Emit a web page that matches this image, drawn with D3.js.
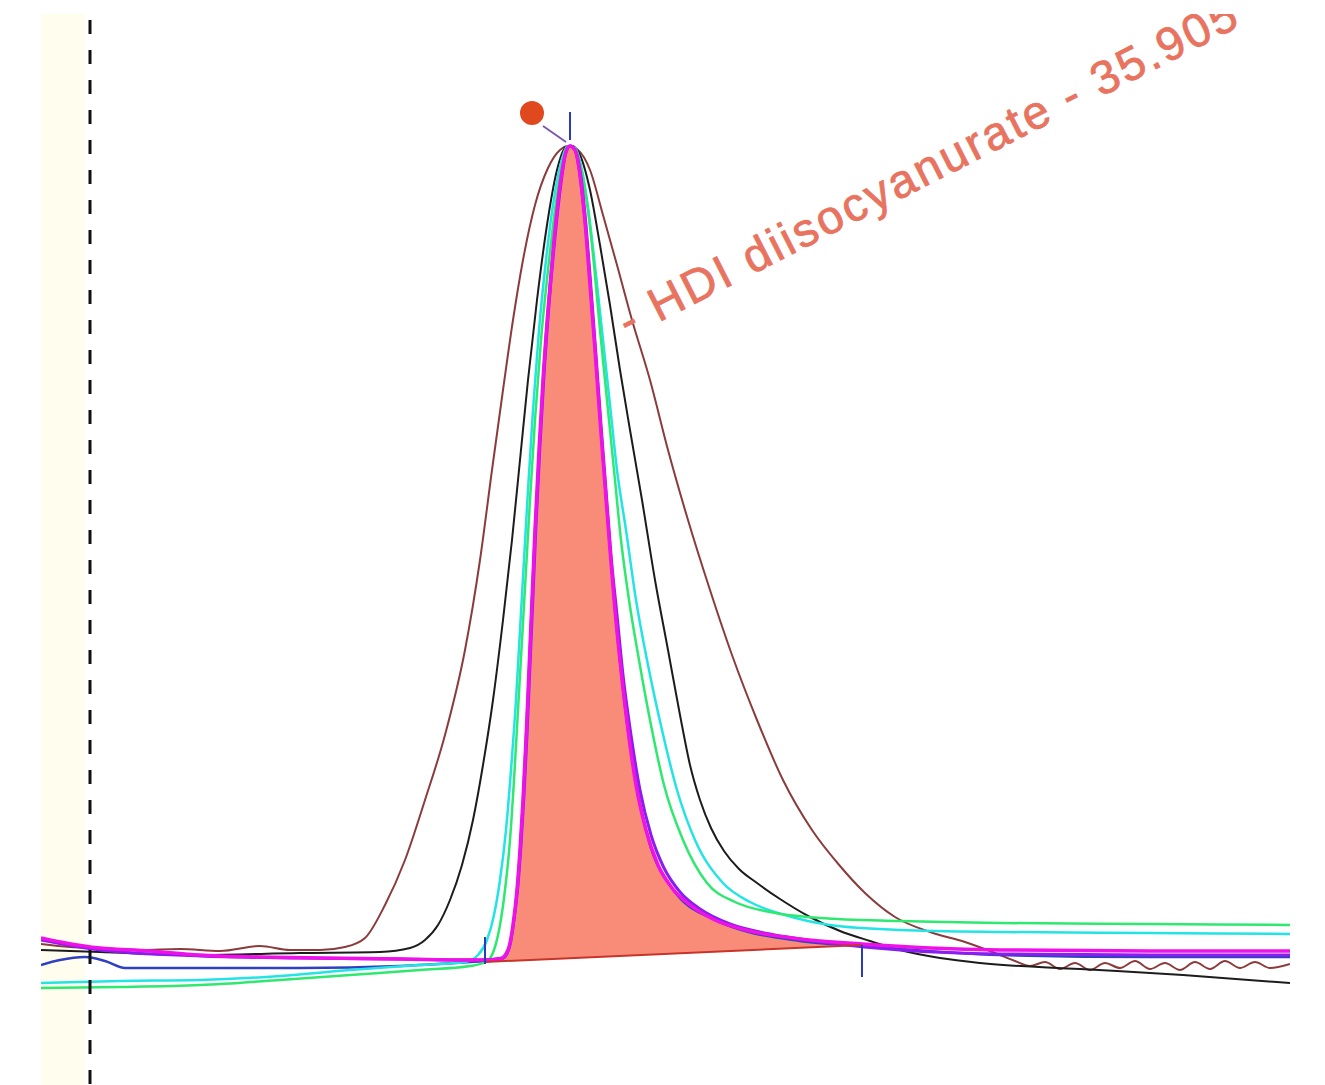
<!DOCTYPE html>
<html>
<head>
<meta charset="utf-8">
<script src="https://cdn.jsdelivr.net/npm/d3@7"></script>
<style>
  body { margin: 0; background: #fff; }
  svg { display: block; }
</style>
</head>
<body>
<svg id="chart"></svg>
<script>
// overlay of injections, [retention time (min), detector counts]
var brown = [[33.260,17],[33.405,14],[33.555,13],[33.755,11],[33.955,12],[34.155,10],[34.355,15],[34.505,11],[34.655,11],[34.780,14],[34.880,23],[34.980,56],[35.080,101],[35.180,161],[35.280,226],[35.380,311],[35.455,401],[35.515,491],[35.570,571],[35.620,641],[35.670,701],[35.730,756],[35.795,793],[35.855,811],[35.895,815],[35.945,811],[36.005,791],[36.070,746],[36.140,696],[36.215,641],[36.305,581],[36.395,511],[36.495,441],[36.605,371],[36.715,306],[36.840,241],[36.970,181],[37.115,131],[37.255,95],[37.380,68],[37.530,44],[37.705,29],[37.880,19],[38.030,8],[38.130,0],[38.205,-5],[38.280,-1],[38.355,-8],[38.430,-2],[38.505,-9],[38.580,-2],[38.655,-7],[38.730,0],[38.805,-8],[38.880,-2],[38.955,-9],[39.030,-1],[39.105,-8],[39.180,0],[39.255,-7],[39.330,-1],[39.405,-7],[39.505,-3]];

var black = [[33.260,11],[33.555,9],[34.055,6],[34.555,8],[34.955,9],[35.105,13],[35.180,21],[35.245,36],[35.305,61],[35.365,96],[35.420,141],[35.470,196],[35.520,261],[35.570,341],[35.615,421],[35.655,501],[35.695,581],[35.740,661],[35.790,736],[35.840,791],[35.885,814],[35.915,815],[35.955,806],[36.005,771],[36.055,716],[36.105,656],[36.155,591],[36.205,531],[36.265,461],[36.330,381],[36.395,311],[36.455,246],[36.505,196],[36.555,161],[36.610,133],[36.675,110],[36.750,92],[36.840,78],[36.955,62],[37.105,44],[37.255,30],[37.405,20],[37.555,11],[37.755,3],[37.955,-2],[38.455,-8],[38.970,-14],[39.505,-22]];

var blue = [[33.260,-4],[33.355,1],[33.480,4],[33.580,0],[33.680,-7],[34.055,-7],[34.555,-7],[35.055,-5],[35.405,-1],[35.555,1],[35.595,11],[35.640,71],[35.670,161],[35.700,291],[35.730,431],[35.770,581],[35.825,721],[35.885,809],[35.905,815],[35.930,811],[35.980,739],[36.030,611],[36.080,476],[36.130,351],[36.195,231],[36.285,131],[36.415,73],[36.630,41],[37.055,20],[37.365,15],[38.055,6],[38.805,4],[39.505,4]];

var cyan = [[33.260,-22],[33.655,-20],[34.055,-19],[34.455,-15],[34.805,-9],[35.155,-4],[35.380,-1],[35.445,6],[35.490,21],[35.525,46],[35.555,81],[35.585,131],[35.610,191],[35.635,261],[35.655,331],[35.675,401],[35.695,471],[35.720,551],[35.750,631],[35.785,701],[35.820,756],[35.860,798],[35.895,815],[35.930,813],[35.965,791],[36.000,746],[36.035,686],[36.070,621],[36.105,556],[36.140,491],[36.185,431],[36.235,361],[36.295,296],[36.365,231],[36.440,171],[36.530,121],[36.670,78],[36.805,59],[36.980,46],[37.205,36],[37.555,31],[38.055,29],[38.805,28],[39.505,27]];

var green = [[33.260,-27],[33.655,-26],[34.055,-24],[34.455,-19],[34.805,-14],[35.155,-9],[35.405,-5],[35.485,-1],[35.525,11],[35.555,36],[35.580,71],[35.605,121],[35.625,181],[35.645,251],[35.665,321],[35.685,391],[35.705,461],[35.730,541],[35.760,621],[35.795,691],[35.830,751],[35.865,795],[35.895,814],[35.930,812],[35.960,793],[35.995,751],[36.025,696],[36.055,631],[36.090,561],[36.125,491],[36.160,421],[36.200,361],[36.250,301],[36.305,241],[36.375,176],[36.470,121],[36.590,78],[36.730,59],[36.905,49],[37.155,43],[37.555,40],[38.055,38],[38.805,37],[39.505,36]];

var purple = [[33.260,21],[33.555,11],[34.055,5],[34.555,3],[35.055,2],[35.455,1],[35.570,3],[35.605,16],[35.625,41],[35.645,76],[35.660,116],[35.675,166],[35.690,226],[35.705,296],[35.720,366],[35.735,436],[35.755,516],[35.775,586],[35.800,656],[35.830,724],[35.860,778],[35.885,809],[35.905,815],[35.930,811],[35.960,784],[35.985,736],[36.010,673],[36.035,606],[36.060,536],[36.085,471],[36.110,406],[36.140,346],[36.170,286],[36.210,226],[36.255,171],[36.310,126],[36.375,93],[36.455,69],[36.555,52],[36.705,37],[36.905,27],[37.205,18],[37.555,11],[38.055,7],[38.805,6],[39.505,6]];

var magenta = [[33.260,23],[33.505,14],[33.805,10],[34.055,6],[34.355,4],[34.655,3],[35.055,2],[35.405,1],[35.480,1],[35.555,2],[35.595,11],[35.620,36],[35.640,71],[35.655,111],[35.670,161],[35.685,221],[35.700,291],[35.715,361],[35.730,431],[35.750,511],[35.770,581],[35.795,651],[35.825,721],[35.855,776],[35.885,809],[35.905,815],[35.930,811],[35.955,786],[35.980,739],[36.005,676],[36.030,611],[36.055,541],[36.080,476],[36.105,411],[36.130,351],[36.160,291],[36.195,231],[36.235,176],[36.285,131],[36.345,96],[36.415,73],[36.505,56],[36.630,41],[36.805,30],[37.055,22],[37.365,17],[37.705,13],[38.055,11],[38.805,10],[39.505,10]];

// integrated peak
var peakName = "HDI diisocyanurate";
var peakTime = 35.905;
var peakApex = 815;
var baseStart = [35.480, -1];
var baseEnd = [37.365, 16];
var markerTime = 33.505;   // dashed event line

var width = 1325, height = 1085;

var x = d3.scaleLinear().domain([33.26, 39.505]).range([41, 1290]);
var y = d3.scaleLinear().domain([-124, 947]).range([1085, 14]);

var svg = d3.select('#chart')
    .attr('width', width)
    .attr('height', height);

svg.append('defs').append('clipPath')
    .attr('id', 'plot')
    .append('rect')
    .attr('x', 41).attr('y', 14)
    .attr('width', 1249).attr('height', 1071);

var g = svg.append('g').attr('clip-path', 'url(#plot)');

// faint yellow strip on the left of the plot
g.append('rect')
    .attr('x', 41).attr('y', 14)
    .attr('width', 44).attr('height', 1071)
    .attr('fill', '#fffdee');

// baseline between integration ticks
var baseAt = t => baseStart[1] + (baseEnd[1] - baseStart[1]) * (t - baseStart[0]) / (baseEnd[0] - baseStart[0]);

var area = d3.area()
    .x(d => x(d[0]))
    .y0(d => y(baseAt(d[0])))
    .y1(d => y(d[1]))
    .curve(d3.curveMonotoneX);

g.append('path')
    .datum(magenta.filter(d => d[0] >= baseStart[0] && d[0] <= baseEnd[0]))
    .attr('d', area)
    .attr('fill', '#f98c79');

var line = d3.line()
    .x(d => x(d[0]))
    .y(d => y(d[1]))
    .curve(d3.curveMonotoneX);

var traces = [
    { data: brown, color: '#8b3b3b', w: 2 },
    { data: black, color: '#1c1c1c', w: 2 },
    { data: blue, color: '#3040c0', w: 2.5 },
    { data: cyan, color: '#22e4e4', w: 2.5 },
    { data: green, color: '#2ee870', w: 2.5 },
    { data: purple, color: '#8a1ef0', w: 3 },
    { data: magenta, color: '#f010e8', w: 3.5 }
];

g.selectAll('path.trace')
    .data(traces)
    .enter()
    .append('path')
    .attr('class', 'trace')
    .attr('d', d => line(d.data))
    .attr('fill', 'none')
    .attr('stroke', d => d.color)
    .attr('stroke-width', d => d.w)
    .attr('stroke-linejoin', 'round');

g.append('line')
    .attr('x1', x(baseStart[0])).attr('y1', y(baseStart[1]))
    .attr('x2', x(baseEnd[0])).attr('y2', y(baseEnd[1]))
    .attr('stroke', '#c8342a')
    .attr('stroke-width', 2);

// integration ticks
g.selectAll('line.tick')
    .data([[baseStart[0], baseStart[1] + 25, baseStart[1] - 2], [baseEnd[0], baseEnd[1], baseEnd[1] - 32], [peakTime, peakApex + 34, peakApex + 6]])
    .enter()
    .append('line')
    .attr('class', 'tick')
    .attr('x1', d => x(d[0])).attr('x2', d => x(d[0]))
    .attr('y1', d => y(d[1])).attr('y2', d => y(d[2]))
    .attr('stroke', '#2a3cb8')
    .attr('stroke-width', 2);

// peak marker
g.append('line')
    .attr('x1', x(peakTime) - 27).attr('y1', y(peakApex) - 20)
    .attr('x2', x(peakTime) - 4).attr('y2', y(peakApex) - 4)
    .attr('stroke', '#7a58b0')
    .attr('stroke-width', 2);

g.append('circle')
    .attr('cx', x(peakTime) - 38)
    .attr('cy', y(peakApex) - 33)
    .attr('r', 12)
    .attr('fill', '#e0481e');

// peak label
g.append('text')
    .attr('transform', 'translate(' + (x(peakTime) + 58) + ',' + (y(peakApex) + 192) + ') rotate(-27)')
    .attr('textLength', 688)
    .attr('lengthAdjust', 'spacing')
    .style('font-family', '"Liberation Sans", Arial, sans-serif')
    .style('font-size', '47px')
    .attr('fill', '#e8735f')
    .attr('stroke', '#e8735f')
    .attr('stroke-width', 0.8)
    .text('- ' + peakName + ' - ' + peakTime.toFixed(3));

svg.append('line')
    .attr('x1', x(markerTime)).attr('x2', x(markerTime))
    .attr('y1', 20).attr('y2', height)
    .attr('stroke', '#111')
    .attr('stroke-width', 3)
    .attr('stroke-dasharray', '14,16');
</script>
</body>
</html>
